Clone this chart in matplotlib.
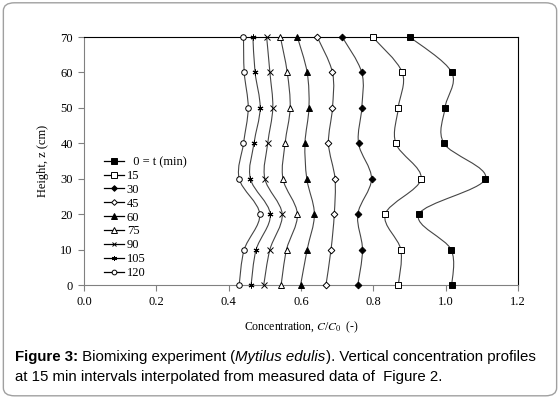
import numpy as np
import matplotlib
matplotlib.use("Agg")
import matplotlib.pyplot as plt
from matplotlib.path import Path
from matplotlib.patches import PathPatch, FancyBboxPatch
from matplotlib.lines import Line2D

# heights (cm) and concentration profiles C/C0 for each time (min)
heights = [0, 10, 20, 30, 40, 50, 60, 70]
labels = ["  0 = t (min)", "15", "30", "45", "60", "75", "90", "105", "120"]
c_t0 = [1.017, 1.015, 0.926, 1.110, 0.995, 0.998, 1.017, 0.901]
c_t15 = [0.869, 0.876, 0.833, 0.932, 0.862, 0.869, 0.880, 0.798]
c_t30 = [0.757, 0.770, 0.757, 0.795, 0.759, 0.768, 0.768, 0.714]
c_t45 = [0.669, 0.683, 0.692, 0.694, 0.676, 0.687, 0.687, 0.645]
c_t60 = [0.599, 0.617, 0.637, 0.616, 0.611, 0.622, 0.617, 0.590]
c_t75 = [0.545, 0.560, 0.590, 0.550, 0.556, 0.570, 0.562, 0.543]
c_t90 = [0.497, 0.514, 0.548, 0.500, 0.508, 0.522, 0.514, 0.505]
c_t105 = [0.462, 0.476, 0.515, 0.460, 0.470, 0.487, 0.473, 0.467]
c_t120 = [0.429, 0.443, 0.486, 0.429, 0.441, 0.454, 0.443, 0.441]
series = [c_t0, c_t15, c_t30, c_t45, c_t60, c_t75, c_t90, c_t105, c_t120]

# marker, face colour, size
styles = [("s", "black", 5), ("s", "white", 4.5), ("D", "black", 3.4),
          ("D", "white", 3.4), ("^", "black", 5), ("^", "white", 5),
          ("x", "black", 3.8), ((6, 2, 0), "black", 4.2), ("o", "white", 4)]


def smooth_path(xs, ys):
    # Excel-like smoothed line: Catmull-Rom segments as cubic Beziers
    p = np.column_stack([xs, ys])
    pts = np.vstack([p[0], p, p[-1]])
    verts = [p[0]]
    codes = [Path.MOVETO]
    for i in range(1, len(pts) - 2):
        c1 = pts[i] + (pts[i + 1] - pts[i - 1]) / 6
        c2 = pts[i + 1] - (pts[i + 2] - pts[i]) / 6
        verts += [c1, c2, pts[i + 1]]
        codes += [Path.CURVE4] * 3
    return Path(verts, codes)


serif = "Liberation Serif"
sans = "Liberation Sans"
plt.rcParams["mathtext.fontset"] = "stix"

fig = plt.figure(figsize=(5.6, 3.99), dpi=100)
fig.patches.append(FancyBboxPatch((0.006, 0.008), 0.988, 0.985,
                                  boxstyle="round,pad=0,rounding_size=0.02",
                                  transform=fig.transFigure, fc="white",
                                  ec="#a0a0a0", lw=1.0, zorder=-10))
ax = fig.add_axes([0.15, 0.2857, 0.775, 0.6215])
ax.set_zorder(1)
ax.patch.set_alpha(0)

handles = []
for vals, (mk, fc, ms), lab in zip(series, styles, labels):
    ax.add_patch(PathPatch(smooth_path(vals, heights), fill=False,
                           ec="#454545", lw=0.8, zorder=2, clip_on=False))
    ax.plot(vals, heights, ls="none", marker=mk, mfc=fc, mec="black",
            ms=ms, mew=0.7, zorder=3, clip_on=False)
    handles.append(Line2D([], [], color="black", lw=0.9, marker=mk, mfc=fc,
                          mec="black", ms=ms * 0.85, mew=0.7, label=lab))

ax.set_xlim(0, 1.2)
ax.set_ylim(0, 70)
ax.set_xticks(np.arange(0, 1.21, 0.2))
ax.set_xticklabels([f"{v:.1f}" for v in np.arange(0, 1.21, 0.2)])
ax.set_yticks(range(0, 71, 10))
for s in ["left", "bottom"]:
    ax.spines[s].set_color("#808080")
for s in ["top", "right"]:
    ax.spines[s].set_color("black")
ax.tick_params(direction="out", length=4, width=0.8, color="#808080",
               labelsize=9, pad=4)
for t in ax.get_xticklabels() + ax.get_yticklabels():
    t.set_fontfamily(serif)

ax.set_xlabel("Concentration, $C$/$C_0$  (-)", fontfamily=serif,
              fontsize=8.5, labelpad=8)
ax.set_ylabel("Height, z (cm)", fontfamily=serif, fontsize=9, labelpad=8)

leg = ax.legend(handles=handles, loc="upper left",
                bbox_to_anchor=(0.035, 0.54), frameon=False,
                prop={"family": serif, "size": 9}, handlelength=1.6,
                handletextpad=0.2, labelspacing=0.15, borderaxespad=0)

# caption built from text runs
fig.canvas.draw()
renderer = fig.canvas.get_renderer()


def text_runs(x, y, runs, size=10.8):
    for s, weight, style in runs:
        t = fig.text(x, y, s, fontsize=size, fontfamily=sans,
                     fontweight=weight, fontstyle=style, va="baseline")
        bb = t.get_window_extent(renderer)
        x += bb.width / fig.bbox.width


text_runs(0.027, 1 - 361 / 399, [
    ("Figure 3:", "bold", "normal"),
    (" Biomixing experiment (", "normal", "normal"),
    ("Mytilus edulis", "normal", "italic"),
    ("). Vertical concentration profiles", "normal", "normal")])
text_runs(0.027, 1 - 381 / 399, [
    ("at 15 min intervals interpolated from measured data of  Figure 2.",
     "normal", "normal")])

fig.savefig("out.png", dpi=100)
